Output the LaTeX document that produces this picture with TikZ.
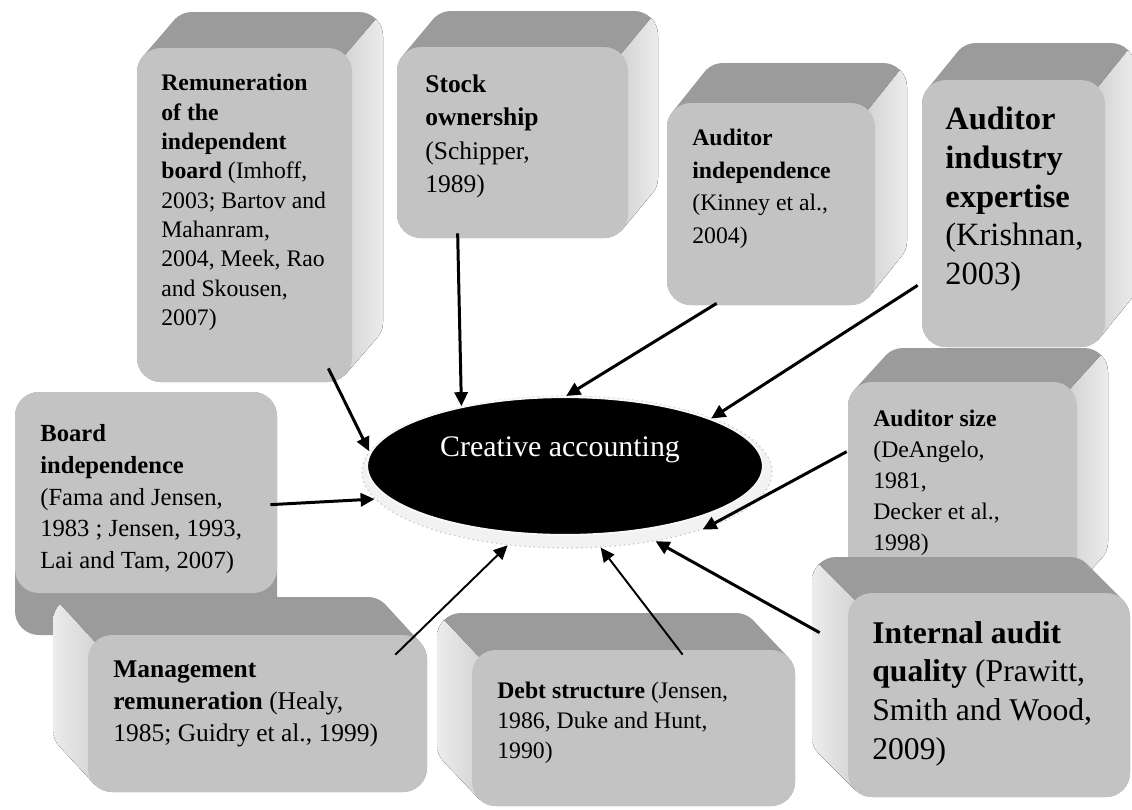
\documentclass[tikz,border=0pt]{standalone}
\usepackage{fontspec}
\setmainfont{Liberation Serif}
\usetikzlibrary{calc,fit,shapes.geometric,arrows.meta}
\definecolor{frontc}{HTML}{C3C3C3}
\definecolor{topc}{HTML}{9B9B9B}
\definecolor{sidea}{HTML}{D4D4D4}
\definecolor{sideb}{HTML}{EFEFEF}
\tikzset{
  frontface/.style={fill=frontc, rounded corners=0.48cm, inner sep=0pt, draw=none},
  boxtext/.style={anchor=north west, align=left, inner sep=0pt, text=black},
  conn/.style={draw=black, line width=1.7pt, -{Triangle[length=8pt,width=7.5pt]}},
  thinconn/.style={conn, line width=1.1pt},
}
\newcommand\silhouette[6]{\foreach \kk in {0,0.04,...,1.0001}{(#1+\kk*#5,#2+\kk*#6) rectangle (#3+\kk*#5,#4+\kk*#6)}}
% name x1 y1 x2 y2 dx dy  (extrusion up-right)
\newcommand\cubeR[7]{%
  \fill[topc, rounded corners=0.48cm] \silhouette{#2}{#3}{#4}{#5}{#6}{#7};
  \begin{scope}
    \clip[rounded corners=0.48cm] \silhouette{#2}{#3}{#4}{#5}{#6}{#7};
    \fill[left color=sidea, right color=sideb] (#4-7,#3+7) -- (#4-7+#6,#3+7+#7) -- (#4-7+#6,#3+#7-20) -- (#4+#6+5,#3+#7-20) -- (#4+#6+5,#5+5) -- (#4-7,#5+5) -- cycle;
  \end{scope}
  \node[frontface, fit={(#2,#3) (#4,#5)}] (#1) {};
}
% extrusion up-left
\newcommand\cubeL[7]{%
  \fill[topc, rounded corners=0.48cm] \silhouette{#2}{#3}{#4}{#5}{#6}{#7};
  \begin{scope}
    \clip[rounded corners=0.48cm] \silhouette{#2}{#3}{#4}{#5}{#6}{#7};
    \fill[left color=sideb, right color=sidea] (#2+7,#3+7) -- (#2+7+#6,#3+7+#7) -- (#2+7+#6,#3+#7-20) -- (#2+#6-5,#3+#7-20) -- (#2+#6-5,#5+5) -- (#2+7,#5+5) -- cycle;
  \end{scope}
  \node[frontface, fit={(#2,#3) (#4,#5)}] (#1) {};
}
% extrusion downwards
\newcommand\cubeN[7]{%
  \fill[topc, rounded corners=0.48cm] \silhouette{#2}{#3}{#4}{#5}{#6}{#7};
  \node[frontface, fit={(#2,#3) (#4,#5)}] (#1) {};
}
\begin{document}
\begin{tikzpicture}[x=0.02cm, y=-0.02cm]
\useasboundingbox (0,0) rectangle (1132,809);
\fill[white] (0,0) rectangle (1132,809);

% boxes
\cubeN{B}{15}{392}{277}{593}{0}{42}
\cubeL{M}{88}{635}{427}{792}{-35}{-38}
\cubeR{R}{137}{48}{352}{382}{31}{-36}
\cubeR{S}{397}{47}{628}{238}{30}{-36}
\cubeR{AI}{667}{103}{875}{305}{32}{-40}
\cubeR{AE}{922}{80}{1105}{347}{30}{-37}
\cubeR{AS}{848}{382}{1077}{600}{31}{-34}
\cubeL{IA}{848}{593}{1130}{797}{-36}{-36}
\cubeL{D}{472}{650}{795}{806}{-35}{-37}

% texts
\node[boxtext, font=\fontsize{14}{18.1}\selectfont] (Bt) at (40,424)
  {\textbf{Board}\\\textbf{independence}\\(Fama and Jensen,\\1983 ; Jensen, 1993,\\Lai and Tam, 2007)};
\node[boxtext, font=\fontsize{14.5}{18.4}\selectfont] (Mt) at (113,660)
  {\textbf{Management}\\\textbf{remuneration} (Healy,\\1985; Guidry et al., 1999)};
\node[boxtext, font=\fontsize{13.5}{16.7}\selectfont] (Rt) at (161,74)
  {\textbf{Remuneration}\\\textbf{of the}\\\textbf{independent}\\\textbf{board} (Imhoff,\\2003; Bartov and\\Mahanram,\\2004, Meek, Rao\\and Skousen,\\2007)};
\node[boxtext, font=\fontsize{14.5}{19.1}\selectfont] (St) at (425,74)
  {\textbf{Stock}\\\textbf{ownership}\\(Schipper,\\1989)};
\node[boxtext, font=\fontsize{13.5}{18.5}\selectfont] (AIt) at (692,129)
  {\textbf{Auditor}\\\textbf{independence}\\(Kinney et al.,\\2004)};
\node[boxtext, font=\fontsize{18.5}{22}\selectfont] (AEt) at (945,107)
  {\textbf{Auditor}\\\textbf{industry}\\\textbf{expertise}\\(Krishnan,\\2003)};
\node[boxtext, font=\fontsize{13.5}{17.6}\selectfont] (ASt) at (873,410)
  {\textbf{Auditor size}\\(DeAngelo,\\1981,\\Decker et al.,\\1998)};
\node[boxtext, font=\fontsize{18}{22}\selectfont] (IAt) at (872,621)
  {\textbf{Internal audit}\\\textbf{quality} (Prawitt,\\Smith and Wood,\\2009)};
\node[boxtext, font=\fontsize{13.5}{17}\selectfont] (Dt) at (497,682)
  {\textbf{Debt structure} (Jensen,\\1986, Duke and Hunt,\\1990)};

% central ellipse with light halo
\node[ellipse, fill=gray!10, draw=gray!45, dotted, line width=0.7pt, minimum width=8.2cm, minimum height=3.04cm, inner sep=0pt] (Eh) at (567,472) {};
\node[ellipse, fill=black, draw=gray!6, line width=1.2pt, minimum width=7.92cm, minimum height=2.76cm, inner sep=0pt] (E) at (565,466) {};
\node[text=white, inner sep=0pt, font=\fontsize{17}{20}\selectfont] (Et) at (560,450) {Creative accounting};

% connectors
\draw[conn] ($(R.south east)+(-24,-14)$) -- (Eh.174);
\draw[conn] ($(S.south west)+(61,-5)$) -- (E.150);
\draw[conn] ($(AI.south west)+(50,-2)$) -- (E.89);
\draw[conn] ($(AE.south west)+(-4,-62)$) -- (E.18);
\draw[conn] ($(AS.north west)+(-1,70)$) -- (Eh.337);
\draw[conn] ($(IA.north west)+(-28,40)$) -- (Eh.322);
\draw[thinconn] ($(D.north west)+(211,5)$) -- (Eh.294);
\draw[thinconn] ($(M.north east)+(-32,20)$) -- (Eh.231);
\draw[conn] ($(B.north east)+(-7,113)$) -- (Eh.188);
\end{tikzpicture}
\end{document}
